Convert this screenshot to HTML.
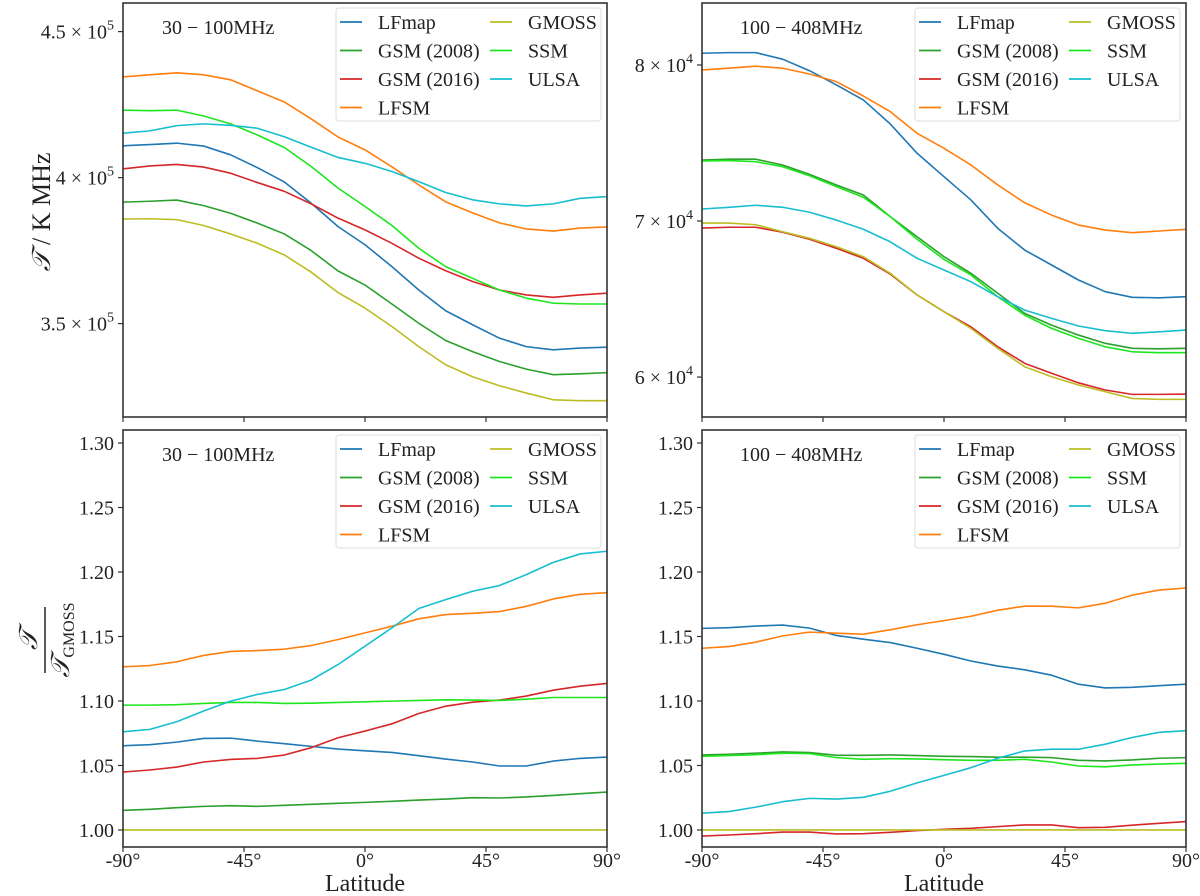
<!DOCTYPE html>
<html><head><meta charset="utf-8">
<style>
html,body{margin:0;padding:0;background:#fff;}
svg{display:block;font-family:"Liberation Serif","DejaVu Serif",serif;}
</style></head>
<body>
<svg id="chart" width="1200" height="896" viewBox="0 0 1200 896" xmlns="http://www.w3.org/2000/svg"></svg>
<script>
const latitudes = [-90,-80,-70,-60,-50,-40,-30,-20,-10,0,10,20,30,40,50,60,70,80,90];
const seriesNames = ["LFmap","GSM (2008)","GSM (2016)","LFSM","GMOSS","SSM","ULSA"];
const seriesColors = ["#1f77b4","#2ca02c","#d62728","#ff7f0e","#bcbd22","#1ee61e","#17becf"];
// Top-left: 30-100 MHz, values in K MHz
const tl_LFmap = [410900,411300,411800,410800,407800,403400,398500,391200,383200,377000,369500,361500,354400,349600,345000,342100,341000,341600,341900];
const tl_GSM2008 = [391600,391900,392300,390400,387800,384400,380700,375000,368000,363200,356700,350100,344200,340400,337000,334400,332500,332800,333200];
const tl_GSM2016 = [403000,404000,404500,403600,401500,398300,395300,391000,386100,382100,377500,372400,368100,364400,361500,359800,359000,359800,360400];
const tl_LFSM = [434500,435200,435900,435200,433500,429700,425900,420100,413900,409500,403700,397500,391700,387900,384500,382400,381700,382700,383100];
const tl_GMOSS = [385800,385900,385600,383600,380700,377500,373500,367600,360600,355300,349000,342100,335900,331800,328700,326200,323900,323600,323600];
const tl_SSM = [423100,422900,423100,421100,418400,414600,410300,403800,396400,390100,383600,375800,369500,365500,361500,358700,357000,356700,356700];
const tl_ULSA = [415200,416000,417800,418400,417900,416900,414000,410400,406900,404900,402100,398600,394900,392400,391000,390300,391000,392900,393500];
// Top-right: 100-408 MHz
const tr_LFmap = [80750,80790,80790,80370,79630,78720,77760,76220,74340,72840,71350,69530,68140,67180,66220,65470,65110,65080,65150];
const tr_GSM2008 = [73910,73960,73960,73590,72990,72310,71670,70280,68990,67710,66650,65370,64080,63330,62690,62160,61840,61810,61840];
const tr_GSM2016 = [69550,69600,69600,69280,68830,68250,67610,66600,65260,64190,63220,61940,60880,60240,59630,59170,58890,58890,58910];
const tr_LFSM = [79680,79790,79920,79790,79420,78930,78010,77010,75620,74660,73590,72310,71170,70380,69740,69420,69250,69360,69470];
const tr_GMOSS = [69870,69870,69760,69310,68890,68350,67710,66650,65260,64190,63120,61840,60660,60020,59490,59060,58630,58570,58570];
const tr_SSM = [73850,73870,73800,73480,72900,72200,71520,70280,68830,67540,66540,65150,63970,63120,62480,61940,61620,61560,61560];
const tr_ULSA = [70770,70880,71010,70880,70560,70060,69470,68670,67610,66860,66110,65150,64290,63760,63270,62970,62800,62900,63010];
// Bottom-left ratios 30-100 MHz
const bl_LFmap = [1.0653,1.0661,1.0681,1.0710,1.0712,1.0689,1.0669,1.0648,1.0627,1.0614,1.0601,1.0576,1.0550,1.0527,1.0496,1.0496,1.0534,1.0555,1.0565];
const bl_GSM2008 = [1.0152,1.0160,1.0173,1.0183,1.0188,1.0183,1.0191,1.0199,1.0207,1.0214,1.0222,1.0232,1.0240,1.0250,1.0248,1.0256,1.0268,1.0281,1.0294];
const bl_GSM2016 = [1.0449,1.0465,1.0488,1.0527,1.0547,1.0555,1.0581,1.0638,1.0715,1.0767,1.0823,1.0903,1.0960,1.0991,1.1007,1.1038,1.1084,1.1115,1.1136];
const bl_LFSM = [1.1265,1.1275,1.1304,1.1353,1.1384,1.1391,1.1402,1.1430,1.1477,1.1528,1.1580,1.1637,1.1670,1.1680,1.1693,1.1734,1.1791,1.1827,1.1840];
const bl_GMOSS = [1,1,1,1,1,1,1,1,1,1,1,1,1,1,1,1,1,1,1];
const bl_SSM = [1.0968,1.0968,1.0971,1.0981,1.0989,1.0989,1.0981,1.0983,1.0989,1.0994,1.0999,1.1004,1.1009,1.1007,1.1004,1.1014,1.1027,1.1027,1.1027];
const bl_ULSA = [1.0761,1.0780,1.0839,1.0922,1.0999,1.1051,1.1089,1.1162,1.1283,1.1425,1.1567,1.1717,1.1786,1.1851,1.1895,1.1980,1.2075,1.2140,1.2161];
// Bottom-right ratios 100-408 MHz
const br_LFmap = [1.1563,1.1568,1.1581,1.1589,1.1565,1.1508,1.1479,1.1453,1.1409,1.1362,1.1310,1.1271,1.1242,1.1200,1.1130,1.1101,1.1106,1.1119,1.1130];
const br_GSM2008 = [1.0582,1.0587,1.0595,1.0605,1.0600,1.0579,1.0579,1.0582,1.0577,1.0571,1.0569,1.0564,1.0564,1.0561,1.0540,1.0535,1.0543,1.0556,1.0561];
const br_GSM2016 = [0.9953,0.9961,0.9971,0.9984,0.9984,0.9969,0.9971,0.9982,0.9995,1.0005,1.0013,1.0026,1.0039,1.0039,1.0018,1.0021,1.0037,1.0052,1.0065];
const br_LFSM = [1.1409,1.1422,1.1456,1.1505,1.1534,1.1526,1.1518,1.1552,1.1591,1.1623,1.1657,1.1704,1.1735,1.1735,1.1722,1.1758,1.1821,1.1860,1.1876];
const br_GMOSS = [1,1,1,1,1,1,1,1,1,1,1,1,1,1,1,1,1,1,1];
const br_SSM = [1.0571,1.0577,1.0584,1.0595,1.0592,1.0561,1.0548,1.0553,1.0551,1.0545,1.0540,1.0540,1.0548,1.0527,1.0496,1.0490,1.0504,1.0511,1.0517];
const br_ULSA = [1.0130,1.0143,1.0177,1.0219,1.0245,1.0240,1.0253,1.0300,1.0365,1.0423,1.0483,1.0556,1.0613,1.0626,1.0626,1.0665,1.0717,1.0757,1.0770];

const xTickValues = [-90,-45,0,45,90];
const xTickLabels = ["-90°","-45°","0°","45°","90°"];
const tlTickValues = [350000,400000,450000];
const tlTickMant = ["3.5","4","4.5"];
const trTickValues = [60000,70000,80000];
const trTickMant = ["6","7","8"];
const ratioTickValues = [1.00,1.05,1.10,1.15,1.20,1.25,1.30];
const ratioTickLabels = ["1.00","1.05","1.10","1.15","1.20","1.25","1.30"];

const NS = "http://www.w3.org/2000/svg";
const svg = document.getElementById("chart");
function mk(tag, attrs, parent){
  const e = document.createElementNS(NS, tag);
  for (const k in attrs) e.setAttribute(k, attrs[k]);
  (parent||svg).appendChild(e);
  return e;
}

const panels = [
  {id:"top-left", x0:123,x1:607,y0:3,y1:417, vTop:459800, vBot:318000, series:[tl_LFmap,tl_GSM2008,tl_GSM2016,tl_LFSM,tl_GMOSS,tl_SSM,tl_ULSA], ticks:tlTickValues, mant:tlTickMant, exp:"5", title:"30 − 100MHz", xlabels:false},
  {id:"top-right", x0:702,x1:1186,y0:3,y1:417, vTop:83970, vBot:57440, series:[tr_LFmap,tr_GSM2008,tr_GSM2016,tr_LFSM,tr_GMOSS,tr_SSM,tr_ULSA], ticks:trTickValues, mant:trTickMant, exp:"4", title:"100 − 408MHz", xlabels:false},
  {id:"bottom-left", x0:123,x1:607,y0:430,y1:847, vTop:1.3101, vBot:0.9868, series:[bl_LFmap,bl_GSM2008,bl_GSM2016,bl_LFSM,bl_GMOSS,bl_SSM,bl_ULSA], ticks:ratioTickValues, labels:ratioTickLabels, title:"30 − 100MHz", xlabels:true},
  {id:"bottom-right", x0:702,x1:1186,y0:430,y1:847, vTop:1.3101, vBot:0.9868, series:[br_LFmap,br_GSM2008,br_GSM2016,br_LFSM,br_GMOSS,br_SSM,br_ULSA], ticks:ratioTickValues, labels:ratioTickLabels, title:"100 − 408MHz", xlabels:true}
];

panels.forEach(p=>{
  const g = mk("g",{});
  
  
  const xs = lat => p.x0 + (lat+90)/180*(p.x1-p.x0);
  const ys = v => p.y0 + (p.vTop - v)/(p.vTop - p.vBot)*(p.y1-p.y0);
  // series lines
  p.series.forEach((arr,i)=>{
    const d = arr.map((v,j)=>(j?"L":"M")+xs(latitudes[j]).toFixed(2)+" "+ys(v).toFixed(2)).join(" ");
    const path = mk("path",{d:d,fill:"none",stroke:seriesColors[i],"stroke-width":"1.6","stroke-linejoin":"round"},g);
    
    
  });
  // frame
  const fr = mk("rect",{x:p.x0,y:p.y0,width:p.x1-p.x0,height:p.y1-p.y0,fill:"none",stroke:"#333","stroke-width":"1.6"},g);
  
  
  // x ticks
  xTickValues.forEach((t,i)=>{
    const x = xs(t);
    const tk = mk("line",{x1:x,x2:x,y1:p.y1,y2:p.y1+5,stroke:"#333","stroke-width":"1.2"},g);
    
    
    if (p.xlabels){
      const tx = mk("text",{x:x,y:p.y1+20,"text-anchor":"middle","font-size":"20",fill:"#222"},g);
      tx.textContent = xTickLabels[i];
      
      
    }
  });
  // y ticks
  p.ticks.forEach((t,i)=>{
    const y = ys(t);
    const tk = mk("line",{x1:p.x0-5,x2:p.x0,y1:y,y2:y,stroke:"#333","stroke-width":"1.2"},g);
    
    
    const tx = mk("text",{x:p.x0-9,y:y+7,"text-anchor":"end","font-size":"20",fill:"#222"},g);
    
    
    if (p.labels){ tx.textContent = p.labels[i]; }
    else {
      const a = mk("tspan",{},tx); a.textContent = p.mant[i]+" × 10";
      const b = mk("tspan",{dy:"-9","font-size":"14"},tx); b.textContent = p.exp;
    }
  });
  // panel title
  const tt = mk("text",{x:p.x0+(p.id.indexOf("left")>=0?39:38),y:p.y0+31,"font-size":"20",fill:"#222"},g);
  tt.textContent = p.title;
  
  
  // legend
  const lx = p.x1 - 271, ly = p.y0 + 5;
  const lg = mk("g",{},g);
  
  
  mk("rect",{x:lx,y:ly,width:265,height:113,rx:3,fill:"#fff","fill-opacity":"0.85",stroke:"#ddd","stroke-width":"1"},lg);
  seriesNames.forEach((n,i)=>{
    const col = i<4?0:1, row = i<4?i:i-4;
    const bx = lx + 4 + col*150, by = ly + 14 + row*28.5;
    const ent = mk("g",{},lg);
    
    
    mk("line",{x1:bx,x2:bx+22,y1:by,y2:by,stroke:seriesColors[i],"stroke-width":"1.8"},ent);
    const t = mk("text",{x:bx+38,y:by+7,"font-size":"20",fill:"#222"},ent);
    t.textContent = n;
  });
  if (p.xlabels){
    const xl = mk("text",{x:(p.x0+p.x1)/2,y:891,"text-anchor":"middle","font-size":"24",fill:"#222"},g);
    xl.textContent = "Latitude";
    
    
  }
});

// y-axis titles
const yt1 = mk("text",{x:0,y:0,transform:"translate(50,212) rotate(-90)","text-anchor":"middle","font-size":"26",fill:"#222"});


const a1 = mk("tspan",{"font-style":"italic"},yt1); a1.textContent = "𝒯";
const a2 = mk("tspan",{},yt1); a2.textContent = " / K MHz";

const yt2 = mk("g",{transform:"translate(45,640) rotate(-90)"});


const n1 = mk("text",{x:0,y:-8,"text-anchor":"middle","font-size":"26","font-style":"italic",fill:"#222"},yt2); n1.textContent = "𝒯";
mk("line",{x1:-33,x2:33,y1:0,y2:0,stroke:"#222","stroke-width":"1.5"},yt2);
const d1 = mk("text",{x:0,y:24,"text-anchor":"middle","font-size":"26",fill:"#222"},yt2);
const d1a = mk("tspan",{"font-style":"italic"},d1); d1a.textContent = "𝒯";
const d1b = mk("tspan",{"font-size":"16",dy:"5"},d1); d1b.textContent = "GMOSS";
</script>
</body></html>
